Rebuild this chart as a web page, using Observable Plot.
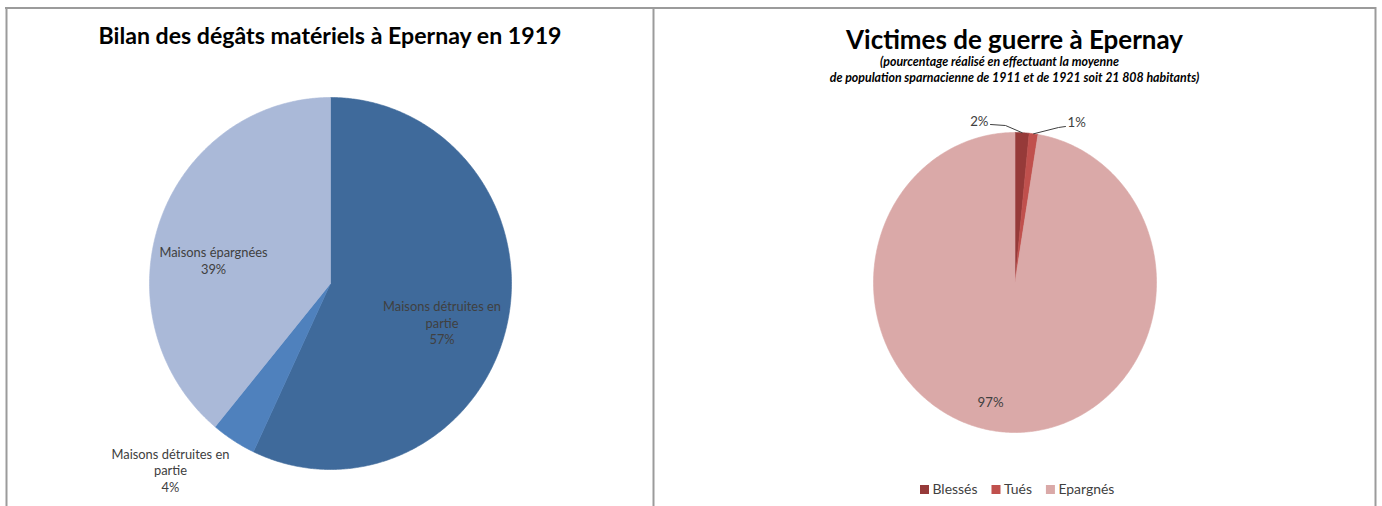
<!DOCTYPE html>
<html><head><meta charset="utf-8">
<script src="https://cdn.jsdelivr.net/npm/d3@7"></script>
<script src="https://cdn.jsdelivr.net/npm/@observablehq/plot@0.6"></script>
<style>html,body{margin:0;padding:0;background:#fff;overflow:hidden}</style>
</head><body><div id="chart"></div>
<script>
// ---------------- DATA ----------------
const degatsTitle = "Bilan des dégâts matériels à Epernay en 1919";
const degatsCategories = ["Maisons détruites en partie", "Maisons détruites en partie", "Maisons épargnées"];
const degatsValues = [57, 4, 39];

const victimesTitle = "Victimes de guerre à Epernay";
const victimesSubtitle = ["(pourcentage réalisé en effectuant la moyenne", "de population sparnacienne de 1911 et de 1921 soit 21 808 habitants)"];
const victimesCategories = ["Blessés", "Tués", "Epargnés"];
const victimesValues = [1.6, 1.0, 97.4];

// ---------------- STYLE ----------------
const degatsColors = ["#3F6A9B", "#4F81BD", "#AAB9D8"];
const victimesColors = ["#963A39", "#C0504D", "#DAA9A8"];
const FONT = "Lato";
const TEXT = "#404040";
const W = 1382, H = 506;

const ctx = document.createElement("canvas").getContext("2d");
function measure(text, size, weight = "normal", style = "normal") {
  ctx.font = `${style} ${weight} ${size}px ${FONT}`;
  return ctx.measureText(text).width;
}
function fit(text, target, weight, style) { return 100 * target / measure(text, 100, weight, style); }
function wrap(text, size, maxW) {
  const words = text.split(" "); const lines = []; let cur = "";
  for (const w of words) {
    const t = cur ? cur + " " + w : w;
    if (cur && measure(t, size) > maxW) { lines.push(cur); cur = w; } else cur = t;
  }
  lines.push(cur); return lines.join("\n");
}
const pct = v => Math.round(v) + "%";

// pie geometry (ellipse) from values
function pie(values, cx, cy, rx, ry) {
  const arcs = d3.pie().sort(null).value(d => d)(values);
  return arcs.map((a, i) => {
    const n = Math.max(3, Math.ceil((a.endAngle - a.startAngle) / (Math.PI / 360)));
    const pts = [{x: cx, y: cy}];
    for (let k = 0; k <= n; k++) {
      const t = a.startAngle + (a.endAngle - a.startAngle) * k / n;
      pts.push({x: cx + rx * Math.sin(t), y: cy - ry * Math.cos(t)});
    }
    pts.push({x: cx, y: cy});
    return {i, pts, mid: (a.startAngle + a.endAngle) / 2};
  });
}
const polar = (P, deg, r) => {
  const t = deg * Math.PI / 180;
  return {x: P.cx + r * P.rx * Math.sin(t), y: P.cy - r * P.ry * Math.cos(t)};
};

// ---------- left pie ----------
const LP = {cx: 330, cy: 283, rx: 181, ry: 186};
const leftSlices = pie(degatsValues, LP.cx, LP.cy, LP.rx, LP.ry);
const labelSize = fit("Maisons détruites en", 118);
const leftPlace = [[108.8, 0.651], [221.4, 1.337], [280.9, 0.658]];
const leftLabels = degatsCategories.map((c, i) => {
  const p = polar(LP, leftPlace[i][0], leftPlace[i][1]);
  return {x: p.x, y: p.y, text: wrap(c, labelSize, 125) + "\n" + pct(degatsValues[i])};
});

// ---------- right pie ----------
const RP = {cx: 1014.5, cy: 282, rx: 141.5, ry: 150};
const rightSlices = pie(victimesValues, RP.cx, RP.cy, RP.rx, RP.ry);
const rLabelSize = fit("97%", 26);
const arcPt = s => ({x: RP.cx + RP.rx * Math.sin(s.mid), y: RP.cy - RP.ry * Math.cos(s.mid)});
const leaders = [
  [arcPt(rightSlices[0]), {x: 1005, y: 125}, {x: 990, y: 124}],
  [arcPt(rightSlices[1]), {x: 1058, y: 127}, {x: 1065, y: 126}]
];
const p97 = polar(RP, 192.2, 0.818);
const rightLabels = [
  {x: 988, y: 121, text: pct(victimesValues[0]), anchor: "end"},
  {x: 1067, y: 122, text: pct(victimesValues[1]), anchor: "start"},
  {x: p97.x, y: p97.y, text: pct(victimesValues[2]), anchor: "middle"}
];

// legend layout
const legSize = fit("Blessés", 45);
const sq = 9, gapSq = 3, gapItem = 14.5;
let lx = 920;
const legend = victimesCategories.map((c, i) => {
  const item = {x1: lx, x2: lx + sq, y1: 485, y2: 494, tx: lx + sq + gapSq, ty: 489.5, text: c, color: victimesColors[i]};
  lx = item.tx + measure(c, legSize) + gapItem;
  return item;
});

// titles
const t1Size = fit(degatsTitle, 464, "bold");
const t2Size = fit(victimesTitle, 337, "bold");
const s1Size = fit(victimesSubtitle[1], 370, "bold", "italic");

const marks = [];
// frame
marks.push(Plot.ruleY([7.5], {x1: 5, x2: 1376, stroke: "#9b9b9b", strokeWidth: 2}));
marks.push(Plot.ruleX([6, 653, 1375], {y1: 7, y2: H + 5, stroke: "#9b9b9b", strokeWidth: 2}));
// slices
leftSlices.forEach(s => marks.push(Plot.line(s.pts, {x: "x", y: "y", fill: degatsColors[s.i], stroke: degatsColors[s.i], strokeWidth: 0.6, curve: "linear"})));
rightSlices.forEach(s => marks.push(Plot.line(s.pts, {x: "x", y: "y", fill: victimesColors[s.i], stroke: victimesColors[s.i], strokeWidth: 0.6, curve: "linear"})));
// leaders
leaders.forEach(l => marks.push(Plot.line(l, {x: "x", y: "y", stroke: "#404040", strokeWidth: 1, curve: "linear"})));
// labels
marks.push(Plot.text(leftLabels, {x: "x", y: "y", text: "text", fontSize: labelSize, fill: TEXT, lineHeight: 1.29, textAnchor: "middle"}));
rightLabels.forEach(d => marks.push(Plot.text([d], {x: "x", y: "y", text: "text", fontSize: rLabelSize, fill: TEXT, textAnchor: d.anchor})));
// legend
marks.push(Plot.rect(legend, {x1: "x1", x2: "x2", y1: "y1", y2: "y2", fill: "color"}));
marks.push(Plot.text(legend, {x: "tx", y: "ty", text: "text", fontSize: legSize, fill: TEXT, textAnchor: "start"}));
// titles
marks.push(Plot.text([degatsTitle], {x: () => 329.5, y: () => 43 - 0.32 * t1Size, text: d => d, fontSize: t1Size, fontWeight: "bold", fill: "#000"}));
marks.push(Plot.text([victimesTitle], {x: () => 1014, y: () => 48 - 0.32 * t2Size, text: d => d, fontSize: t2Size, fontWeight: "bold", fill: "#000"}));
marks.push(Plot.text([victimesSubtitle[0]], {x: () => 999, y: () => 65 - 0.32 * s1Size, text: d => d, fontSize: s1Size, fontWeight: "bold", fontStyle: "italic", fill: "#000"}));
marks.push(Plot.text([victimesSubtitle[1]], {x: () => 1014, y: () => 81 - 0.32 * s1Size, text: d => d, fontSize: s1Size, fontWeight: "bold", fontStyle: "italic", fill: "#000"}));

const chart = Plot.plot({
  width: W, height: H, margin: 0,
  x: {type: "identity", axis: null},
  y: {type: "identity", axis: null},
  style: {fontFamily: FONT, background: "#fff", overflow: "hidden"},
  marks
});
document.getElementById("chart").appendChild(chart);
</script>
</body></html>
